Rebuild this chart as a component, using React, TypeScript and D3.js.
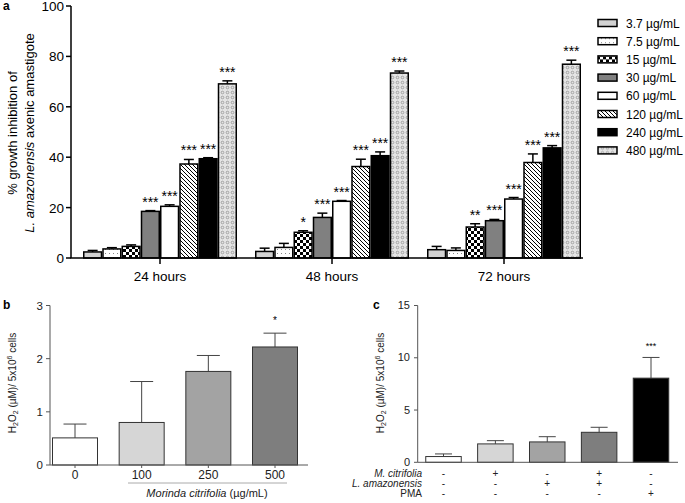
import React from "react";
import * as d3 from "d3";

// ---------- Panel a data ----------
const groups = ["24 hours", "48 hours", "72 hours"];
const concentrations = ["3.7 µg/mL", "7.5 µg/mL", "15 µg/mL", "30 µg/mL", "60 µg/mL", "120 µg/mL", "240 µg/mL", "480 µg/mL"];
const means24 = [2.4, 3.6, 4.6, 18.5, 20.5, 37.3, 39.4, 69.1];
const err24 = [0.6, 0.5, 0.6, 0.3, 0.6, 1.8, 0.4, 1.2];
const sig24 = ["", "", "", "***", "***", "***", "***", "***"];
const means48 = [2.6, 4.2, 10.2, 16.1, 22.5, 36.3, 40.6, 73.4];
const err48 = [1.3, 1.6, 0.6, 1.7, 0.3, 2.9, 1.5, 0.8];
const sig48 = ["", "", "*", "***", "***", "***", "***", "***"];
const means72 = [3.3, 3.0, 12.3, 14.8, 23.4, 37.9, 43.7, 76.9];
const err72 = [1.3, 1.0, 1.3, 0.5, 0.6, 3.4, 0.9, 1.6];
const sig72 = ["", "", "**", "***", "***", "***", "***", "***"];
const yTicksA = [0, 20, 40, 60, 80, 100];

// ---------- Panel b data ----------
const doseLabels = ["0", "100", "250", "500"];
const meansB = [0.51, 0.8, 1.76, 2.22];
const errB = [0.26, 0.77, 0.3, 0.26];
const sigB = ["", "", "", "*"];
const yTicksB = [0, 1, 2, 3];

// ---------- Panel c data ----------
const conditionsC = ["ctrl", "Mc", "La", "Mc+La", "PMA"];
const meansC = [0.55, 1.76, 1.95, 2.87, 8.05];
const errC = [0.25, 0.31, 0.5, 0.48, 1.98];
const sigC = ["", "", "", "", "***"];
const rowLabelsC = ["M. citrifolia", "L. amazonensis", "PMA"];
const rowSignsC = [
  ["-", "+", "-", "+", "-"],
  ["-", "-", "+", "+", "-"],
  ["-", "-", "-", "-", "+"],
];
const yTicksC = [0, 5, 10, 15];

const FONT = "'Liberation Sans', Arial, Helvetica, sans-serif";
const fillsA = ["#d2d2d2", "url(#pDots)", "url(#pCheck)", "#808080", "#ffffff", "url(#pHatch)", "#000000", "url(#pWave)"];
const fillsB = ["#ffffff", "#d6d6d6", "#a3a3a3", "#7e7e7e"];
const fillsC = ["#ffffff", "#d6d6d6", "#a3a3a3", "#7e7e7e", "#000000"];

export default function App() {
  // Panel a scales
  const yA = d3.scaleLinear().domain([0, 100]).range([258, 6]);
  const xA = d3.scalePoint<string>().domain(groups).range([160, 504]);
  const xInner = d3.scaleBand<number>().domain(d3.range(8)).range([-77, 77]).paddingInner(0);
  const bw = xInner.bandwidth();
  const seriesA = [
    { g: groups[0], m: means24, e: err24, s: sig24 },
    { g: groups[1], m: means48, e: err48, s: sig48 },
    { g: groups[2], m: means72, e: err72, s: sig72 },
  ];

  // Panel b scales
  const yB = d3.scaleLinear().domain([0, 3]).range([465, 305.5]);
  const xB = d3.scalePoint<string>().domain(doseLabels).range([75, 275]);
  const bwB = 45;

  // Panel c scales
  const yC = d3.scaleLinear().domain([0, 15]).range([462.3, 305.5]);
  const xC = d3.scalePoint<string>().domain(conditionsC).range([443.5, 651]);
  const bwC = 35.5;

  const axisGray = "#555";
  const rowY = (r: number) => 477 + r * 10.2;

  return (
    <svg width={685} height={503} style={{ position: "absolute", left: 0, top: 0, background: "#fff" }} fontFamily={FONT}>
      <defs>
        <pattern id="pDots" width={4} height={4} patternUnits="userSpaceOnUse">
          <rect width={4} height={4} fill="#fff" />
          <rect x={1} y={1} width={1} height={1} fill="#888" />
        </pattern>
        <pattern id="pCheck" width={6} height={6} patternUnits="userSpaceOnUse">
          <rect width={6} height={6} fill="#fff" />
          <rect x={0} y={0} width={3} height={3} fill="#000" />
          <rect x={3} y={3} width={3} height={3} fill="#000" />
        </pattern>
        <pattern id="pHatch" width={4} height={4} patternUnits="userSpaceOnUse">
          <rect width={4} height={4} fill="#fff" />
          <path d="M-1,-1 L5,5 M-1,3 L1,5 M3,-1 L5,1" stroke="#000" strokeWidth={1} />
        </pattern>
        <pattern id="pWave" width={5} height={5} patternUnits="userSpaceOnUse">
          <rect width={5} height={5} fill="#e4e4e4" />
          <circle cx={2.5} cy={2.5} r={1.3} fill="none" stroke="#888" strokeWidth={0.7} />
        </pattern>
      </defs>

      {/* ---------------- Panel a ---------------- */}
      <text x={3} y={10} fontSize={12} fontWeight="bold">a</text>
      <text transform="translate(17,133) rotate(-90)" textAnchor="middle" fontSize={13}>% growth inhibition of</text>
      <text transform="translate(34,133) rotate(-90)" textAnchor="middle" fontSize={13}>
        <tspan fontStyle="italic">L. amazonensis</tspan> axenic amastigote
      </text>
      {seriesA.map((s) => (
        <g key={s.g}>
          {s.m.map((v, i) => {
            const x0 = (xA(s.g) as number) + (xInner(i) as number);
            const cx = x0 + bw / 2;
            const top = yA(v);
            const et = yA(v + s.e[i]);
            return (
              <g key={i}>
                <line x1={cx} x2={cx} y1={top} y2={et} stroke="#000" strokeWidth={1.5} />
                <line x1={cx - 5} x2={cx + 5} y1={et} y2={et} stroke="#000" strokeWidth={1.5} />
                <rect x={x0 + 0.75} y={top} width={bw - 1.5} height={yA(0) - top} fill={fillsA[i]} stroke="#000" strokeWidth={1.5} />
                {s.s[i] && (
                  <text x={cx} y={et - 4} textAnchor="middle" fontSize={14}>{s.s[i]}</text>
                )}
              </g>
            );
          })}
        </g>
      ))}
      <line x1={71} x2={71} y1={yA(100)} y2={yA(0)} stroke="#000" strokeWidth={1.5} />
      <line x1={70.25} x2={583} y1={yA(0)} y2={yA(0)} stroke="#000" strokeWidth={1.5} />
      {yTicksA.map((t) => (
        <g key={t}>
          <line x1={66} x2={71} y1={yA(t)} y2={yA(t)} stroke="#000" strokeWidth={1.5} />
          <text x={64} y={yA(t) + 5} textAnchor="end" fontSize={13.5}>{t}</text>
        </g>
      ))}
      {groups.map((g) => (
        <g key={g}>
          <line x1={xA(g)} x2={xA(g)} y1={yA(0)} y2={yA(0) + 6} stroke="#000" strokeWidth={1.5} />
          <text x={xA(g)} y={281} textAnchor="middle" fontSize={13.5}>{g}</text>
        </g>
      ))}
      {concentrations.map((c, i) => (
        <g key={c} transform={`translate(0,${23 + i * 18.2})`}>
          <rect x={598} y={-3.5} width={19} height={7} fill={fillsA[i]} stroke="#000" strokeWidth={1.5} />
          <text x={626} y={4.5} fontSize={12}>{c}</text>
        </g>
      ))}

      {/* ---------------- Panel b ---------------- */}
      <text x={3} y={309} fontSize={12} fontWeight="bold">b</text>
      <text transform="translate(16,383) rotate(-90)" textAnchor="middle" fontSize={10} fill="#222">
        H<tspan fontSize={7} dy={2}>2</tspan><tspan dy={-2}>O</tspan><tspan fontSize={7} dy={2}>2</tspan><tspan dy={-2}> (µM)/ 5x10</tspan><tspan fontSize={7} dy={-4}>6</tspan><tspan dy={4}> cells</tspan>
      </text>
      {doseLabels.map((d, i) => {
        const cx = xB(d) as number;
        const top = yB(meansB[i]);
        const et = yB(meansB[i] + errB[i]);
        return (
          <g key={d}>
            <line x1={cx} x2={cx} y1={top} y2={et} stroke="#444" strokeWidth={1} />
            <line x1={cx - 11.5} x2={cx + 11.5} y1={et} y2={et} stroke="#444" strokeWidth={1} />
            <rect x={cx - bwB / 2} y={top} width={bwB} height={yB(0) - top} fill={fillsB[i]} stroke="#333" strokeWidth={1} />
            {sigB[i] && <text x={cx} y={et - 9} textAnchor="middle" fontSize={10}>{sigB[i]}</text>}
            <line x1={cx} x2={cx} y1={yB(0)} y2={yB(0) + 3} stroke={axisGray} />
            <text x={cx} y={479} textAnchor="middle" fontSize={12} fill="#222">{d}</text>
          </g>
        );
      })}
      <line x1={50} x2={50} y1={yB(3)} y2={yB(0)} stroke={axisGray} />
      <line x1={50} x2={308} y1={yB(0)} y2={yB(0)} stroke={axisGray} />
      {yTicksB.map((t) => (
        <g key={t}>
          <line x1={46} x2={50} y1={yB(t)} y2={yB(t)} stroke={axisGray} />
          <text x={43} y={yB(t) + 4} textAnchor="end" fontSize={11.5} fill="#222">{t}</text>
        </g>
      ))}
      <line x1={128} x2={287} y1={483} y2={483} stroke="#aaa" strokeWidth={1} />
      <text x={207} y={497} textAnchor="middle" fontSize={11} fill="#222">
        <tspan fontStyle="italic">Morinda citrifolia</tspan> (µg/mL)
      </text>

      {/* ---------------- Panel c ---------------- */}
      <text x={373} y={309} fontSize={12} fontWeight="bold">c</text>
      <text transform="translate(384,383) rotate(-90)" textAnchor="middle" fontSize={10} fill="#222">
        H<tspan fontSize={7} dy={2}>2</tspan><tspan dy={-2}>O</tspan><tspan fontSize={7} dy={2}>2</tspan><tspan dy={-2}> (µM)/ 5x10</tspan><tspan fontSize={7} dy={-4}>6</tspan><tspan dy={4}> cells</tspan>
      </text>
      {conditionsC.map((c, i) => {
        const cx = xC(c) as number;
        const top = yC(meansC[i]);
        const et = yC(meansC[i] + errC[i]);
        return (
          <g key={c}>
            <line x1={cx} x2={cx} y1={top} y2={et} stroke="#444" strokeWidth={1} />
            <line x1={cx - 8.5} x2={cx + 8.5} y1={et} y2={et} stroke="#444" strokeWidth={1} />
            <rect x={cx - bwC / 2} y={top} width={bwC} height={yC(0) - top} fill={fillsC[i]} stroke="#333" strokeWidth={1} />
            {sigC[i] && <text x={cx} y={et - 8} textAnchor="middle" fontSize={9}>{sigC[i]}</text>}
            {rowSignsC.map((row, r) => (
              <text key={r} x={cx} y={rowY(r)} textAnchor="middle" fontSize={10} fill="#222">{row[i]}</text>
            ))}
          </g>
        );
      })}
      <line x1={417.7} x2={417.7} y1={yC(15)} y2={yC(0)} stroke={axisGray} />
      <line x1={417.7} x2={678} y1={yC(0)} y2={yC(0)} stroke={axisGray} />
      {yTicksC.map((t) => (
        <g key={t}>
          <line x1={414} x2={417.7} y1={yC(t)} y2={yC(t)} stroke={axisGray} />
          <text x={410} y={yC(t) + 3.5} textAnchor="end" fontSize={11} fill="#222">{t}</text>
        </g>
      ))}
      {rowLabelsC.map((l, r) => (
        <text key={l} x={422} y={rowY(r)} textAnchor="end" fontSize={10} fill="#222" fontStyle={r < 2 ? "italic" : "normal"}>{l}</text>
      ))}
    </svg>
  );
}
